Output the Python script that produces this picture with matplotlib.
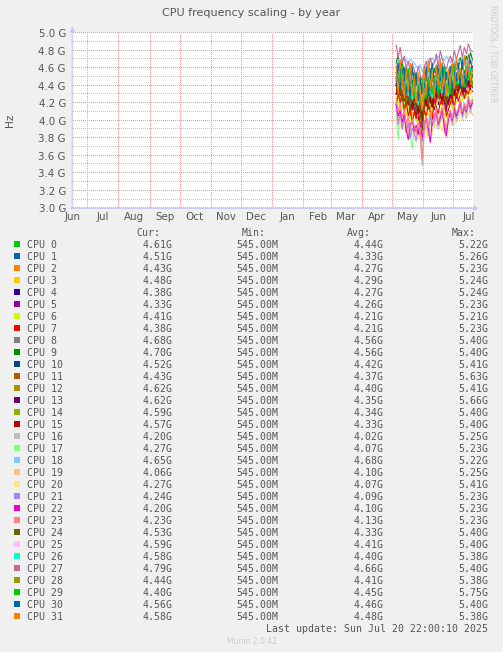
import matplotlib
matplotlib.use("Agg")
import numpy as np
import matplotlib.pyplot as plt
import matplotlib.dates as mdates
from matplotlib.ticker import FixedLocator, NullFormatter
from datetime import datetime

# ---------------- data ----------------
DATES = ["2025-05-05", "2025-05-07", "2025-05-09", "2025-05-11", "2025-05-13",
         "2025-05-15", "2025-05-17", "2025-05-19", "2025-05-21", "2025-05-23",
         "2025-05-25", "2025-05-27", "2025-05-29", "2025-05-31", "2025-06-02",
         "2025-06-04", "2025-06-06", "2025-06-08", "2025-06-10", "2025-06-12",
         "2025-06-14", "2025-06-16", "2025-06-18", "2025-06-20", "2025-06-22",
         "2025-06-24", "2025-06-26", "2025-06-28", "2025-06-30", "2025-07-02",
         "2025-07-04", "2025-07-06", "2025-07-08", "2025-07-10", "2025-07-12",
         "2025-07-14", "2025-07-16", "2025-07-18", "2025-07-20"]

CPU_NAMES = ["CPU %d" % i for i in range(32)]

COLORS = ["#00CC00", "#0066B3", "#FF8000", "#FFCC00", "#330099", "#990099",
          "#CCFF00", "#FF0000", "#808080", "#008F00", "#00487D", "#B35A00",
          "#B38F00", "#6B006B", "#8FB300", "#B30000", "#BEBEBE", "#80FF80",
          "#80C9FF", "#FFC080", "#FFE680", "#AA80FF", "#EE00CC", "#FF8080",
          "#666600", "#FFBFFF", "#00FFCC", "#CC6699", "#999900", "#00CC00",
          "#0066B3", "#FF8000"]

# frequency in GHz
CPU0 = [4.62, 4.48, 4.58, 4.40, 4.52, 4.36, 4.45, 4.30, 4.42, 4.38, 4.28, 4.40, 4.25,
        4.18, 4.35, 4.42, 4.30, 4.46, 4.36, 4.44, 4.52, 4.38, 4.48, 4.55, 4.40, 4.32,
        4.45, 4.50, 4.42, 4.56, 4.46, 4.52, 4.60, 4.48, 4.58, 4.50, 4.66, 4.55, 4.61]
CPU1 = [4.50, 4.38, 4.62, 4.30, 4.44, 4.25, 4.35, 4.20, 4.38, 4.28, 4.16, 4.30, 4.22,
        4.05, 4.30, 4.20, 4.40, 4.26, 4.18, 4.35, 4.42, 4.28, 4.50, 4.36, 4.24, 4.30,
        4.40, 4.32, 4.46, 4.38, 4.55, 4.30, 4.48, 4.42, 4.36, 4.58, 4.45, 4.40, 4.51]
CPU2 = [4.40, 4.30, 4.22, 4.45, 4.28, 4.15, 4.32, 4.10, 4.25, 4.05, 4.20, 4.12, 3.98,
        4.08, 4.22, 4.30, 4.15, 4.25, 4.05, 4.32, 4.20, 4.38, 4.24, 4.30, 4.12, 4.20,
        4.35, 4.18, 4.30, 4.40, 4.26, 4.42, 4.34, 4.28, 4.45, 4.38, 4.50, 4.30, 4.43]
CPU3 = [4.35, 4.48, 4.25, 4.38, 4.20, 4.30, 4.12, 4.28, 4.05, 4.22, 4.15, 4.02, 4.18,
        4.00, 4.20, 4.32, 4.22, 4.12, 4.30, 4.18, 4.36, 4.25, 4.20, 4.40, 4.28, 4.15,
        4.26, 4.34, 4.22, 4.38, 4.30, 4.45, 4.36, 4.48, 4.30, 4.42, 4.55, 4.40, 4.48]
CPU4 = [4.42, 4.30, 4.36, 4.22, 4.40, 4.18, 4.25, 4.10, 4.22, 4.15, 4.05, 4.20, 4.08,
        3.95, 4.18, 4.25, 4.12, 4.30, 4.16, 4.22, 4.34, 4.18, 4.28, 4.36, 4.20, 4.14,
        4.28, 4.22, 4.35, 4.28, 4.40, 4.32, 4.38, 4.45, 4.30, 4.40, 4.48, 4.35, 4.38]
CPU5 = [4.30, 4.45, 4.20, 4.32, 4.15, 4.28, 4.20, 4.05, 4.18, 4.10, 4.22, 4.00, 4.12,
        3.98, 4.10, 4.28, 4.20, 4.15, 4.30, 4.12, 4.25, 4.35, 4.18, 4.26, 4.30, 4.10,
        4.22, 4.30, 4.18, 4.36, 4.25, 4.34, 4.42, 4.30, 4.38, 4.28, 4.44, 4.38, 4.33]
CPU6 = [4.28, 4.18, 4.35, 4.12, 4.25, 4.05, 4.18, 4.00, 4.15, 4.08, 3.98, 4.12, 4.02,
        3.90, 4.08, 4.18, 4.05, 4.22, 4.10, 4.20, 4.12, 4.28, 4.16, 4.22, 4.08, 4.02,
        4.18, 4.25, 4.12, 4.30, 4.20, 4.28, 4.36, 4.22, 4.32, 4.26, 4.40, 4.30, 4.41]
CPU7 = [4.18, 4.30, 4.22, 4.28, 4.10, 4.22, 4.05, 4.15, 3.98, 4.10, 4.02, 4.15, 3.95,
        3.92, 4.12, 4.05, 4.20, 4.10, 4.00, 4.25, 4.15, 4.08, 4.22, 4.18, 4.30, 4.05,
        4.12, 4.20, 4.28, 4.15, 4.32, 4.22, 4.30, 4.38, 4.25, 4.35, 4.30, 4.42, 4.38]
CPU8 = [4.70, 4.58, 4.66, 4.52, 4.62, 4.48, 4.55, 4.42, 4.58, 4.50, 4.40, 4.52, 4.38,
        4.30, 4.48, 4.56, 4.45, 4.60, 4.50, 4.55, 4.64, 4.52, 4.60, 4.66, 4.54, 4.46,
        4.58, 4.62, 4.55, 4.66, 4.58, 4.64, 4.72, 4.60, 4.70, 4.62, 4.76, 4.65, 4.68]
CPU9 = [4.65, 4.75, 4.55, 4.68, 4.50, 4.60, 4.46, 4.58, 4.42, 4.55, 4.48, 4.36, 4.50,
        4.32, 4.52, 4.45, 4.62, 4.50, 4.44, 4.60, 4.52, 4.66, 4.55, 4.48, 4.62, 4.50,
        4.44, 4.58, 4.65, 4.55, 4.68, 4.60, 4.72, 4.58, 4.66, 4.74, 4.62, 4.78, 4.70]
CPU10 = [4.55, 4.45, 4.60, 4.38, 4.48, 4.35, 4.42, 4.28, 4.40, 4.32, 4.22, 4.38, 4.25,
         4.15, 4.36, 4.28, 4.45, 4.35, 4.28, 4.44, 4.38, 4.50, 4.40, 4.46, 4.34, 4.28,
         4.42, 4.48, 4.38, 4.52, 4.44, 4.50, 4.58, 4.45, 4.55, 4.48, 4.62, 4.50, 4.52]
CPU11 = [4.48, 4.38, 4.52, 4.32, 4.42, 4.28, 4.38, 4.20, 4.35, 4.25, 4.15, 4.30, 4.18,
         4.08, 4.28, 4.36, 4.22, 4.40, 4.30, 4.35, 4.44, 4.30, 4.40, 4.46, 4.32, 4.24,
         4.38, 4.42, 4.34, 4.48, 4.38, 4.46, 4.52, 4.40, 4.50, 4.42, 4.55, 4.45, 4.43]
CPU12 = [4.45, 4.55, 4.38, 4.48, 4.30, 4.42, 4.25, 4.36, 4.22, 4.35, 4.28, 4.15, 4.30,
         4.12, 4.32, 4.25, 4.42, 4.30, 4.22, 4.40, 4.34, 4.48, 4.36, 4.30, 4.44, 4.32,
         4.25, 4.38, 4.45, 4.36, 4.50, 4.42, 4.55, 4.40, 4.48, 4.58, 4.46, 4.60, 4.62]
CPU13 = [4.40, 4.50, 4.32, 4.44, 4.26, 4.38, 4.20, 4.32, 4.15, 4.28, 4.22, 4.10, 4.25,
         4.05, 4.28, 4.20, 4.36, 4.25, 4.18, 4.35, 4.28, 4.42, 4.30, 4.24, 4.38, 4.26,
         4.20, 4.32, 4.40, 4.30, 4.45, 4.36, 4.50, 4.35, 4.44, 4.55, 4.40, 4.58, 4.62]
CPU14 = [4.46, 4.36, 4.50, 4.30, 4.40, 4.22, 4.34, 4.18, 4.30, 4.22, 4.12, 4.28, 4.15,
         4.02, 4.25, 4.32, 4.20, 4.38, 4.26, 4.32, 4.40, 4.26, 4.36, 4.42, 4.28, 4.20,
         4.34, 4.38, 4.30, 4.44, 4.36, 4.42, 4.50, 4.38, 4.48, 4.40, 4.55, 4.46, 4.59]
CPU15 = [4.30, 4.45, 4.28, 4.40, 4.22, 4.35, 4.18, 4.30, 4.12, 4.25, 4.18, 4.08, 4.22,
         4.00, 4.24, 4.16, 4.34, 4.22, 4.15, 4.32, 4.26, 4.40, 4.28, 4.22, 4.36, 4.24,
         4.18, 4.30, 4.38, 4.28, 4.42, 4.34, 4.48, 4.32, 4.42, 4.52, 4.38, 4.55, 4.57]
CPU16 = [4.12, 3.98, 4.15, 3.90, 4.05, 3.85, 3.95, 3.80, 3.92, 3.86, 3.75, 3.90, 3.78,
         3.48, 3.85, 3.95, 3.82, 4.00, 3.88, 3.94, 4.05, 3.90, 3.98, 4.06, 3.92, 3.84,
         3.98, 4.02, 3.94, 4.08, 3.98, 4.05, 4.12, 4.00, 4.10, 4.02, 4.18, 4.08, 4.20]
CPU17 = [4.05, 3.78, 4.18, 3.95, 4.10, 3.88, 4.00, 3.82, 3.68, 3.92, 3.85, 3.98, 3.80,
         3.72, 3.95, 4.05, 3.90, 4.08, 3.96, 4.02, 4.10, 3.95, 4.04, 4.12, 3.98, 3.90,
         4.04, 4.08, 4.00, 4.14, 4.04, 4.12, 4.20, 4.06, 4.16, 4.10, 4.24, 4.15, 4.27]
CPU18 = [4.62, 4.70, 4.66, 4.72, 4.68, 4.70, 4.64, 4.70, 4.68, 4.66, 4.62, 4.60, 4.64,
         4.55, 4.62, 4.66, 4.70, 4.68, 4.72, 4.66, 4.70, 4.74, 4.70, 4.72, 4.68, 4.74,
         4.70, 4.66, 4.72, 4.68, 4.64, 4.70, 4.66, 4.72, 4.68, 4.62, 4.70, 4.66, 4.65]
CPU19 = [4.22, 4.05, 4.15, 3.98, 4.10, 3.92, 4.02, 3.88, 4.00, 3.92, 3.84, 3.96, 3.86,
         3.72, 3.94, 4.02, 3.88, 4.06, 3.95, 4.00, 4.10, 3.95, 4.04, 4.12, 3.85, 3.92,
         4.05, 4.10, 3.98, 4.15, 4.05, 4.12, 4.22, 4.06, 4.18, 4.10, 4.28, 4.15, 4.06]
CPU20 = [3.98, 4.12, 3.92, 4.08, 3.88, 4.02, 3.85, 3.98, 3.82, 3.95, 3.88, 3.78, 3.92,
         3.70, 3.90, 3.82, 4.00, 3.90, 3.84, 3.98, 3.92, 4.05, 3.94, 3.88, 4.02, 3.92,
         3.86, 3.98, 4.06, 3.96, 4.10, 4.02, 4.14, 4.00, 4.08, 4.18, 4.05, 4.22, 4.27]
CPU21 = [4.20, 3.95, 4.10, 3.90, 4.05, 3.86, 3.98, 3.80, 3.92, 3.85, 3.78, 3.92, 3.82,
         3.76, 3.92, 4.02, 3.88, 4.05, 3.94, 4.00, 4.08, 3.94, 4.02, 4.10, 3.96, 3.88,
         4.02, 4.06, 3.98, 4.12, 4.02, 4.10, 4.18, 4.04, 4.14, 4.08, 4.22, 4.12, 4.24]
CPU22 = [4.18, 4.05, 4.12, 3.98, 4.08, 3.90, 3.78, 3.95, 4.02, 3.88, 3.95, 3.84, 3.98,
         3.80, 3.96, 4.05, 3.92, 3.75, 4.00, 4.06, 4.12, 3.96, 4.04, 4.14, 3.92, 3.82,
         4.02, 4.10, 4.00, 4.15, 4.05, 4.12, 4.22, 4.08, 4.18, 4.10, 4.26, 4.15, 4.20]
CPU23 = [4.25, 4.10, 4.20, 4.02, 4.14, 3.95, 4.05, 3.90, 4.02, 3.94, 3.86, 4.00, 3.88,
         3.55, 3.96, 4.06, 3.92, 4.10, 3.98, 4.04, 4.14, 3.98, 4.08, 4.16, 4.00, 3.92,
         4.06, 4.12, 4.02, 4.18, 4.08, 4.14, 4.24, 4.10, 4.20, 4.12, 4.28, 4.18, 4.23]
CPU24 = [4.40, 4.28, 4.36, 4.22, 4.34, 4.18, 4.28, 4.14, 4.26, 4.20, 4.10, 4.24, 4.12,
         3.88, 4.22, 4.30, 4.18, 4.36, 4.24, 4.30, 4.38, 4.25, 4.34, 4.40, 4.26, 4.20,
         4.32, 4.36, 4.28, 4.42, 4.34, 4.40, 4.48, 4.36, 4.46, 4.40, 4.52, 4.44, 4.53]
CPU25 = [4.52, 4.40, 4.48, 4.35, 4.45, 4.30, 4.40, 4.26, 4.38, 4.30, 4.22, 4.36, 4.24,
         4.12, 4.34, 4.42, 4.30, 4.46, 4.34, 4.40, 4.48, 4.34, 4.44, 4.50, 4.36, 4.28,
         4.42, 4.46, 4.38, 4.52, 4.44, 4.50, 4.56, 4.45, 4.54, 4.48, 4.60, 4.52, 4.59]
CPU26 = [4.45, 4.55, 4.38, 4.48, 4.32, 4.44, 4.28, 4.38, 4.24, 4.36, 4.30, 4.18, 4.32,
         4.15, 4.35, 4.28, 4.44, 4.32, 4.26, 4.42, 4.36, 4.48, 4.38, 4.32, 4.46, 4.34,
         4.28, 4.40, 4.46, 4.38, 4.50, 4.42, 4.54, 4.40, 4.48, 4.56, 4.46, 4.60, 4.58]
CPU27 = [4.86, 4.72, 4.84, 4.65, 4.74, 4.60, 4.68, 4.55, 4.66, 4.58, 4.50, 4.62, 4.52,
         4.45, 4.60, 4.68, 4.56, 4.72, 4.62, 4.66, 4.76, 4.62, 4.80, 4.70, 4.64, 4.58,
         4.68, 4.74, 4.66, 4.80, 4.70, 4.78, 4.86, 4.72, 4.84, 4.76, 4.88, 4.80, 4.79]
CPU28 = [4.48, 4.38, 4.52, 4.34, 4.44, 4.28, 4.38, 4.24, 4.36, 4.30, 4.20, 4.34, 4.22,
         4.12, 4.32, 4.40, 4.28, 4.44, 4.34, 4.38, 4.46, 4.32, 4.42, 4.48, 4.36, 4.28,
         4.40, 4.46, 4.36, 4.50, 4.42, 4.48, 4.54, 4.44, 4.52, 4.46, 4.56, 4.50, 4.44]
CPU29 = [4.55, 4.38, 4.50, 4.62, 4.30, 4.48, 4.60, 4.34, 4.42, 4.26, 4.48, 4.38, 4.22,
         4.40, 4.55, 4.25, 4.42, 4.58, 4.30, 4.52, 4.45, 4.30, 4.58, 4.42, 4.62, 4.36,
         4.50, 4.30, 4.55, 4.62, 4.40, 4.52, 4.58, 4.44, 4.38, 4.62, 4.48, 4.55, 4.40]
CPU30 = [4.40, 4.66, 4.35, 4.58, 4.60, 4.30, 4.52, 4.25, 4.62, 4.38, 4.55, 4.22, 4.48,
         4.30, 4.38, 4.62, 4.28, 4.50, 4.66, 4.40, 4.34, 4.60, 4.45, 4.62, 4.30, 4.56,
         4.40, 4.62, 4.35, 4.55, 4.45, 4.66, 4.38, 4.70, 4.50, 4.42, 4.62, 4.70, 4.56]
CPU31 = [4.62, 4.30, 4.70, 4.45, 4.25, 4.58, 4.35, 4.66, 4.28, 4.50, 4.20, 4.55, 4.32,
         4.15, 4.60, 4.30, 4.68, 4.38, 4.55, 4.25, 4.62, 4.40, 4.70, 4.35, 4.50, 4.28,
         4.58, 4.42, 4.66, 4.36, 4.72, 4.48, 4.60, 4.40, 4.75, 4.52, 4.68, 4.45, 4.58]

SERIES = [CPU0, CPU1, CPU2, CPU3, CPU4, CPU5, CPU6, CPU7, CPU8, CPU9, CPU10,
          CPU11, CPU12, CPU13, CPU14, CPU15, CPU16, CPU17, CPU18, CPU19, CPU20,
          CPU21, CPU22, CPU23, CPU24, CPU25, CPU26, CPU27, CPU28, CPU29, CPU30,
          CPU31]

CUR = ["4.61G", "4.51G", "4.43G", "4.48G", "4.38G", "4.33G", "4.41G", "4.38G",
       "4.68G", "4.70G", "4.52G", "4.43G", "4.62G", "4.62G", "4.59G", "4.57G",
       "4.20G", "4.27G", "4.65G", "4.06G", "4.27G", "4.24G", "4.20G", "4.23G",
       "4.53G", "4.59G", "4.58G", "4.79G", "4.44G", "4.40G", "4.56G", "4.58G"]
MIN = ["545.00M"] * 32
AVG = ["4.44G", "4.33G", "4.27G", "4.29G", "4.27G", "4.26G", "4.21G", "4.21G",
       "4.56G", "4.56G", "4.42G", "4.37G", "4.40G", "4.35G", "4.34G", "4.33G",
       "4.02G", "4.07G", "4.68G", "4.10G", "4.07G", "4.09G", "4.10G", "4.13G",
       "4.33G", "4.41G", "4.40G", "4.66G", "4.41G", "4.45G", "4.46G", "4.48G"]
MAX = ["5.22G", "5.26G", "5.23G", "5.24G", "5.24G", "5.23G", "5.21G", "5.23G",
       "5.40G", "5.40G", "5.41G", "5.63G", "5.41G", "5.66G", "5.40G", "5.40G",
       "5.25G", "5.23G", "5.22G", "5.25G", "5.41G", "5.23G", "5.23G", "5.23G",
       "5.40G", "5.40G", "5.38G", "5.40G", "5.38G", "5.75G", "5.40G", "5.38G"]

Y_TICKS = [3.0, 3.2, 3.4, 3.6, 3.8, 4.0, 4.2, 4.4, 4.6, 4.8, 5.0]
Y_TICK_LABELS = ["3.0 G", "3.2 G", "3.4 G", "3.6 G", "3.8 G", "4.0 G",
                 "4.2 G", "4.4 G", "4.6 G", "4.8 G", "5.0 G"]
Y_MINOR = [3.1, 3.3, 3.5, 3.7, 3.9, 4.1, 4.3, 4.5, 4.7, 4.9]
MONTH_STARTS = ["2024-07-01", "2024-08-01", "2024-09-01", "2024-10-01",
                "2024-11-01", "2024-12-01", "2025-01-01", "2025-02-01",
                "2025-03-01", "2025-04-01", "2025-05-01", "2025-06-01",
                "2025-07-01"]
MONTH_LABEL_POS = ["2024-06-16", "2024-07-16", "2024-08-16", "2024-09-16",
                   "2024-10-16", "2024-11-16", "2024-12-16", "2025-01-16",
                   "2025-02-16", "2025-03-16", "2025-04-16", "2025-05-16",
                   "2025-06-16", "2025-07-16"]
MONTH_LABELS = ["Jun", "Jul", "Aug", "Sep", "Oct", "Nov", "Dec", "Jan", "Feb",
                "Mar", "Apr", "May", "Jun", "Jul"]

TITLE = "CPU frequency scaling - by year"
LAST_UPDATE = "Last update: Sun Jul 20 22:00:10 2025"

# ---------------- figure ----------------
W, H = 503, 652
TXT = "#555555"
fig = plt.figure(figsize=(W / 100, H / 100), dpi=100, facecolor="#F0F0F0")


def fx(x):
    return x / W


def fy(y):
    return 1 - y / H


x0, x1 = 72.3, 473.3
ytop, ybot = 33.0, 208.3
axw, axh = x1 - x0, ybot - ytop
ax = fig.add_axes([fx(x0), fy(ybot), axw / W, axh / H])
ax.set_facecolor("white")
for s in ax.spines.values():
    s.set_visible(False)

todate = lambda s: mdates.date2num(datetime.strptime(s, "%Y-%m-%d"))
xd = [todate(d) for d in DATES]
ax.set_xlim(mdates.date2num(datetime(2024, 6, 15, 22)),
            mdates.date2num(datetime(2025, 7, 20, 22)))
ax.set_ylim(3.0, 5.0)

# dotted grid drawn as single pixels every 2 px
MAJ, MINC = "#F29C9C", "#C4C4C4"
hx = np.arange(1.0, axw, 2.0) / axw
vy = np.arange(1.0, axh, 2.0) / axh
for v in Y_MINOR:
    ax.plot(hx, [v] * len(hx), ls="none", marker=",", color=MINC,
            transform=ax.get_yaxis_transform(), zorder=1, antialiased=False)
for v in Y_TICKS:
    ax.plot(hx, [v] * len(hx), ls="none", marker=",", color=MAJ,
            transform=ax.get_yaxis_transform(), zorder=1, antialiased=False,
            clip_on=False)
for m in MONTH_STARTS:
    ax.plot([todate(m)] * len(vy), vy, ls="none", marker=",", color=MAJ,
            transform=ax.get_xaxis_transform(), zorder=1, antialiased=False)

# ticks
ax.yaxis.set_major_locator(FixedLocator(Y_TICKS))
ax.set_yticklabels(Y_TICK_LABELS)
ax.xaxis.set_major_locator(FixedLocator([todate(m) for m in MONTH_STARTS]))
ax.xaxis.set_major_formatter(NullFormatter())
ax.xaxis.set_minor_locator(FixedLocator([todate(m) for m in MONTH_LABEL_POS]))
ax.set_xticklabels(MONTH_LABELS, minor=True)
ax.tick_params(axis="both", which="both", length=0, colors=TXT, labelsize=7.4)
ax.tick_params(axis="y", pad=4.6)
ax.tick_params(axis="x", which="minor", pad=3.0)

# data
for vals, col in zip(SERIES, COLORS):
    ax.plot(xd, vals, color=col, lw=0.8, zorder=3, solid_joinstyle="miter")

# axis arrows
acol = "#C8C8F4"
ax.annotate("", xy=((479 - x0) / axw, 0), xytext=(-0.004, 0),
            xycoords="axes fraction", annotation_clip=False,
            arrowprops=dict(arrowstyle="-|>", color=acol, lw=0.9,
                            mutation_scale=7, shrinkA=0, shrinkB=0), zorder=5)
ax.annotate("", xy=(0, (ybot - 26.5) / axh), xytext=(0, -0.004),
            xycoords="axes fraction", annotation_clip=False,
            arrowprops=dict(arrowstyle="-|>", color=acol, lw=0.9,
                            mutation_scale=7, shrinkA=0, shrinkB=0), zorder=5)

# texts
fig.text(fx(251.5), fy(13.5), TITLE, ha="center", va="center", fontsize=8,
         color=TXT)
fig.text(fx(10), fy(120), "Hz", ha="center", va="center", rotation=90,
         fontsize=7.6, color=TXT)
fig.text(fx(492.7), fy(54), "RRDTOOL / TOBI OETIKER", ha="center",
         va="center", rotation=270, fontsize=5.5, color="#CCCCCC")

mono = "DejaVu Sans Mono"
fs = 7.1
hy = 232.3 + 3.6
for label, xr in (("Cur:", 160.0), ("Min:", 265.7), ("Avg:", 371.0),
                  ("Max:", 476.0)):
    fig.text(fx(xr), fy(hy), label, ha="right", va="baseline", family=mono,
             fontsize=fs, color=TXT)

for i in range(32):
    yc = 244.3 + 12.0 * i
    fig.patches.append(plt.Rectangle((fx(14), fy(yc + 3)), 6 / W, 6 / H,
                                     transform=fig.transFigure,
                                     facecolor=COLORS[i], edgecolor="none"))
    yb = yc + 3.6
    fig.text(fx(26.7), fy(yb), CPU_NAMES[i], ha="left", va="baseline",
             family=mono, fontsize=fs, color=TXT)
    for val, xr in ((CUR[i], 172.3), (MIN[i], 278.3), (AVG[i], 383.3),
                    (MAX[i], 488.3)):
        fig.text(fx(xr), fy(yb), val, ha="right", va="baseline", family=mono,
                 fontsize=fs, color=TXT)

fig.text(fx(488.3), fy(628.3 + 3.6), LAST_UPDATE, ha="right", va="baseline",
         family=mono, fontsize=fs, color=TXT)
fig.text(fx(251.7), fy(641.3), "Munin 2.0.42", ha="center", va="center",
         fontsize=5.5, color="#CCCCCC")

fig.savefig("out.png", dpi=100, facecolor=fig.get_facecolor())
